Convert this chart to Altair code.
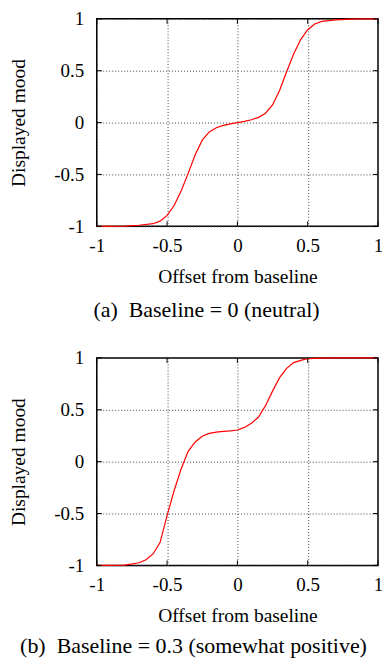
import altair as alt
import pandas as pd

# ---- data ----
x_a = [-1, -0.9, -0.8, -0.7, -0.6, -0.55, -0.5, -0.45, -0.4, -0.35, -0.3, -0.25,
       -0.2, -0.15, -0.1, -0.05, 0, 0.05, 0.1, 0.15, 0.2, 0.25, 0.3, 0.35, 0.4,
       0.45, 0.5, 0.55, 0.6, 0.7, 0.8, 0.9, 1]
y_a = [-1, -1, -0.998, -0.99, -0.975, -0.95, -0.895, -0.80, -0.66, -0.49, -0.31,
       -0.17, -0.09, -0.05, -0.027, -0.012, 0, 0.012, 0.027, 0.05, 0.09, 0.17,
       0.31, 0.49, 0.66, 0.80, 0.895, 0.95, 0.975, 0.99, 0.998, 1, 1]

x_b = [-1, -0.9, -0.8, -0.7, -0.65, -0.6, -0.55, -0.5, -0.45, -0.4, -0.35, -0.3,
       -0.25, -0.2, -0.15, -0.1, -0.05, 0, 0.05, 0.1, 0.15, 0.2, 0.25, 0.3, 0.35,
       0.4, 0.45, 0.5, 0.6, 0.7, 0.8, 0.9, 1]
y_b = [-1, -1, -0.998, -0.975, -0.945, -0.89, -0.78, -0.52, -0.28, -0.07, 0.10,
       0.19, 0.245, 0.272, 0.285, 0.292, 0.296, 0.305, 0.33, 0.37, 0.43, 0.54,
       0.68, 0.81, 0.90, 0.955, 0.977, 0.993, 0.999, 1, 1, 1, 1]

tick_values = [-1, -0.5, 0, 0.5, 1]

captions = ["(a)\u2002Baseline = 0 (neutral)",
            "(b)\u2002Baseline = 0.3 (somewhat positive)"]
caption_dx = [-31, -44]
caption_offset = [14, 11]

W, H = 282, 208
FONT = "Liberation Serif"
TICK = 5
TXT = dict(labelFont=FONT, labelFontSize=19, labelColor="black",
           titleFont=FONT, titleFontSize=19.5, titleFontWeight="normal",
           titleColor="black", domain=False, ticks=False, grid=True,
           gridColor="#444", gridDash=[1, 2], gridWidth=1, labelFlush=False,
           labelOverlap=False)


def panel(xs, ys, caption, dx, off):
    df = pd.DataFrame({"x": xs, "y": ys})
    ticks = pd.DataFrame({"v": tick_values})
    xscale = alt.Scale(domain=[-1, 1], nice=False, zero=False)
    yscale = alt.Scale(domain=[-1, 1], nice=False, zero=False)
    xaxis = alt.Axis(values=tick_values, title="Offset from baseline",
                     labelExpr="datum.value + ''", labelPadding=10,
                     titlePadding=12, **TXT)
    yaxis = alt.Axis(values=tick_values, title="Displayed mood",
                     labelExpr="datum.value + ''", labelPadding=13,
                     titlePadding=25, **TXT)
    line = alt.Chart(df).mark_line(color="#ff0000", strokeWidth=1.2).encode(
        x=alt.X("x:Q", scale=xscale, axis=xaxis),
        y=alt.Y("y:Q", scale=yscale, axis=yaxis),
    )
    tl = alt.Chart(ticks).mark_rule(color="black", strokeWidth=1).encode(
        y=alt.Y("v:Q", scale=yscale, axis=yaxis), x=alt.value(0), x2=alt.value(TICK))
    tr = alt.Chart(ticks).mark_rule(color="black", strokeWidth=1).encode(
        y=alt.Y("v:Q", scale=yscale, axis=yaxis), x=alt.value(W - TICK), x2=alt.value(W))
    tb = alt.Chart(ticks).mark_rule(color="black", strokeWidth=1).encode(
        x=alt.X("v:Q", scale=xscale, axis=xaxis), y=alt.value(H), y2=alt.value(H - TICK))
    tt = alt.Chart(ticks).mark_rule(color="black", strokeWidth=1).encode(
        x=alt.X("v:Q", scale=xscale, axis=xaxis), y=alt.value(0), y2=alt.value(TICK))
    return alt.layer(line, tl, tr, tb, tt).properties(
        width=W, height=H,
        title=alt.TitleParams(caption, orient="bottom", anchor="middle",
                              frame="group", dx=dx, offset=off, font=FONT,
                              fontSize=22, fontWeight="normal", color="black"),
    )


chart = alt.vconcat(
    panel(x_a, y_a, captions[0], caption_dx[0], caption_offset[0]),
    panel(x_b, y_b, captions[1], caption_dx[1], caption_offset[1]),
    spacing=26,
).properties(
    padding={"left": 0, "top": 0, "right": -2, "bottom": 0},
    background="white",
).configure_view(
    stroke="black", strokeWidth=1.5
)

chart.save("out.html", embed_options={"renderer": "svg", "actions": False})
